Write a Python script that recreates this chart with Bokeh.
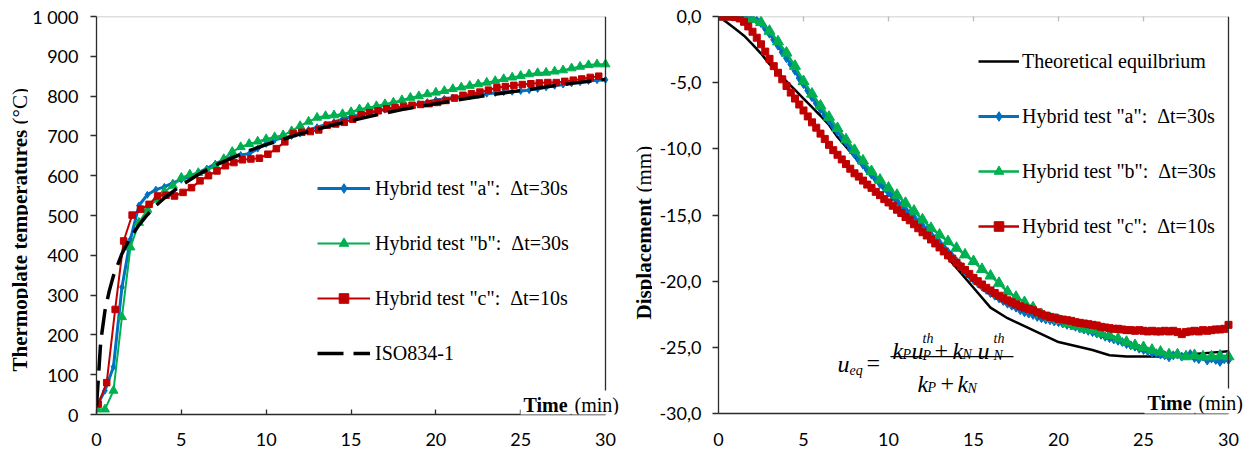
import math
from bokeh.plotting import figure
from bokeh.models import (Legend, LegendItem, Label, LinearAxis, FixedTicker,
                          Range1d, BoxAnnotation, Span)
from bokeh.layouts import row
from bokeh.embed import file_html
from bokeh.resources import INLINE
from bokeh.core.properties import value

# ---------------- data: left panel (thermoplate temperatures) ----------------
x_ticks = [0, 5, 10, 15, 20, 25, 30]
left_y_ticks = [0, 100, 200, 300, 400, 500, 600, 700, 800, 900, 1000]
left_y_labels = {1000: "1 000"}

time_ab_left = [i * 0.5 for i in range(61)]          # sampled every 30 s
temp_a = [20, 60, 120, 320, 440, 525, 552, 565, 572, 582,
          590, 598, 608, 618, 630, 640, 648, 652, 655, 668,
          680, 690, 695, 700, 706, 715, 722, 728, 735, 742,
          748, 753, 758, 762, 766, 769, 772, 776, 780, 785,
          790, 793, 796, 798, 800, 803, 806, 808, 810, 811,
          813, 815, 818, 822, 826, 829, 832, 835, 838, 840,
          841]
temp_b = [13, 13, 60, 245, 420, 482, 515, 540, 560, 575,
          595, 603, 607, 612, 625, 642, 660, 672, 680, 686,
          692, 697, 702, 712, 725, 736, 746, 750, 752, 755,
          760, 767, 771, 775, 780, 784, 790, 796, 800, 805,
          809, 813, 818, 822, 826, 830, 834, 838, 843, 847,
          851, 855, 858, 859, 862, 865, 870, 874, 878, 880,
          880]
time_c_left = [0.1 + i * 0.5 for i in range(60)]
temp_c = [26, 80, 264, 436, 501, 516, 528, 549, 551, 549,
          558, 570, 587, 600, 612, 625, 633, 640, 642, 644,
          654, 668, 685, 706, 709, 711, 715, 727, 730, 734,
          742, 753, 758, 763, 768, 771, 774, 777, 779, 781,
          784, 789, 795, 802, 806, 810, 815, 821, 824, 827,
          829, 831, 833, 834, 834, 837, 840, 843, 847, 850]
time_iso = [0, 0.25, 0.5, 0.75, 1, 1.5, 2, 2.5, 3, 3.5, 4, 5, 6, 7, 8, 9, 10,
            12, 14, 16, 18, 20, 22, 24, 26, 28, 30]
temp_iso = [20, 184, 261, 310, 349, 404, 445, 476, 502, 525, 544, 576, 603,
            626, 645, 663, 678, 705, 728, 748, 766, 781, 795, 808, 820, 832, 842]

# ---------------- data: right panel (displacement) ----------------
right_y_ticks = [0, -5, -10, -15, -20, -25, -30]
right_y_labels = {0: "0,0", -5: "-5,0", -10: "-10,0", -15: "-15,0",
                  -20: "-20,0", -25: "-25,0", -30: "-30,0"}

time_th = [0, 0.5, 1, 1.5, 2, 2.5, 3, 3.5, 4, 4.5, 5, 5.5, 6, 6.5, 7,
           8, 9, 10, 11, 12, 13, 14, 15, 16, 17, 18, 19, 20, 21, 22, 23,
           24, 25, 26, 27, 28, 29, 30]
disp_th = [0, -0.45, -0.95, -1.45, -2.1, -2.8, -3.6, -4.25, -4.9, -5.55,
           -6.2, -6.85, -7.5, -8.2, -9.1,
           -10.6, -12.0, -13.4, -14.7, -16.0, -17.5, -19.0, -20.5, -22.0,
           -22.8, -23.4, -24.0, -24.6, -24.9, -25.2, -25.6, -25.7, -25.7,
           -25.7, -25.6, -25.5, -25.4, -25.3]

time_q = [i * 0.25 for i in range(121)]
disp_a = [0, 0, 0, 0, 0, 0, -0.05, -0.1, -0.15,
          -0.3, -0.5, -0.9, -1.3, -1.75, -2.2, -2.7, -3.15,
          -3.6, -4.1, -4.65, -5.1, -5.6, -6.1, -6.55, -7.0,
          -7.45, -7.85, -8.3, -8.7, -9.1, -9.5, -9.95, -10.4,
          -10.85, -11.2, -11.6, -11.95, -12.3, -12.65, -12.95, -13.3,
          -13.6, -13.95, -14.3, -14.6, -14.9, -15.2, -15.55, -15.85,
          -16.15, -16.5, -16.8, -17.1, -17.45, -17.8, -18.15, -18.5,
          -18.85, -19.2, -19.55, -19.9, -20.15, -20.4, -20.65, -20.9,
          -21.1, -21.3, -21.5, -21.7, -21.85, -22.0, -22.2, -22.35,
          -22.45, -22.55, -22.7, -22.8, -22.9, -22.95, -23.05, -23.1,
          -23.2, -23.3, -23.35, -23.45, -23.55, -23.65, -23.75, -23.85,
          -23.95, -24.05, -24.2, -24.3, -24.4, -24.5, -24.6, -24.75,
          -24.85, -24.95, -25.1, -25.2, -25.3, -25.4, -25.45, -25.55,
          -25.6, -25.75, -25.6, -25.55, -25.7, -25.6, -25.5, -25.8,
          -25.9, -25.7, -26.0, -25.85, -25.95, -26.1, -25.9, -25.95]
time_h = [i * 0.5 for i in range(61)]
disp_b = [0, 0, 0, -0.1, -0.2, -0.45, -1.1, -1.9, -2.75, -3.75,
          -4.9, -5.85, -6.75, -7.6, -8.45, -9.3, -10.1, -10.9, -11.7, -12.35,
          -12.95, -13.5, -14.1, -14.7, -15.35, -16.0, -16.5, -17.0, -17.5, -18.0,
          -18.5, -19.1, -19.6, -20.15, -20.8, -21.2, -21.6, -22.0, -22.5, -22.8,
          -22.95, -23.2, -23.4, -23.6, -23.7, -23.95, -24.1, -24.35, -24.6, -24.85,
          -25.0, -25.2, -25.35, -25.55, -25.55, -25.7, -25.6, -25.7, -25.7, -25.65,
          -25.7]
disp_c = [0, 0, 0, 0, -0.05, -0.15, -0.4, -0.75, -1.15,
          -1.6, -2.1, -2.65, -3.2, -3.75, -4.25, -4.75, -5.25,
          -5.75, -6.2, -6.65, -7.1, -7.55, -8.0, -8.4, -8.85,
          -9.25, -9.7, -10.1, -10.45, -10.8, -11.15, -11.5, -11.85,
          -12.1, -12.4, -12.7, -12.95, -13.25, -13.5, -13.8, -14.05,
          -14.3, -14.6, -14.85, -15.15, -15.4, -15.7, -16.0, -16.3,
          -16.55, -16.85, -17.15, -17.45, -17.75, -18.05, -18.3, -18.6,
          -18.9, -19.15, -19.45, -19.75, -20.0, -20.25, -20.5, -20.7,
          -20.9, -21.1, -21.3, -21.45, -21.6, -21.75, -21.9, -22.0,
          -22.1, -22.2, -22.35, -22.5, -22.6, -22.7, -22.75, -22.85,
          -22.9, -22.95, -23.0, -23.1, -23.15, -23.2, -23.25, -23.3,
          -23.35, -23.45, -23.5, -23.55, -23.6, -23.6, -23.65, -23.7,
          -23.7, -23.75, -23.7, -23.75, -23.8, -23.75, -23.8, -23.8,
          -23.75, -23.8, -23.75, -23.85, -24.0, -23.85, -23.8, -23.75,
          -23.8, -23.7, -23.75, -23.7, -23.65, -23.65, -23.6, -23.3]

label_a = 'Hybrid test "a":\u00a0 \u0394t=30s'
label_b = 'Hybrid test "b":\u00a0 \u0394t=30s'
label_c = 'Hybrid test "c":\u00a0 \u0394t=10s'
label_iso = "ISO834-1"
label_th = "Theoretical equilbrium"

# ---------------- styling ----------------
BLUE = "#0070C0"
GREEN = "#00B050"
RED = "#C00000"
AX = "#2b2b2b"
TICK_FONT = "Lato"
SERIF = "Liberation Serif"
FIG_H = 450


def make_axis(ticks, tick_in=0, tick_out=0, overrides=None, standoff=12, bounds=None):
    ax = LinearAxis(ticker=FixedTicker(ticks=ticks))
    ax.axis_line_color = AX
    ax.axis_line_width = 1.3
    ax.major_tick_line_color = AX
    ax.major_tick_line_width = 1.3
    ax.major_tick_in = tick_in
    ax.major_tick_out = tick_out
    ax.minor_tick_line_color = None
    ax.major_label_text_font = TICK_FONT
    ax.major_label_text_color = "black"
    ax.major_label_text_font_size = "18px"
    ax.major_label_standoff = standoff
    if overrides:
        ax.major_label_overrides = overrides
    if bounds is not None:
        ax.bounds = bounds
    return ax


def edge(p, left, right, top, bottom):
    """frame border line segment / inner tick drawn as a zero-thickness box"""
    p.add_layout(BoxAnnotation(left=left, right=right, top=top, bottom=bottom,
                               fill_alpha=0, line_color=AX, line_width=1.3))


def add_text(p, txt, x, y, size="20px", style="normal", bg=None):
    lab = Label(x=x, y=y, text=txt, text_font=SERIF, text_font_style=style,
                text_font_size=size, text_align="left", text_baseline="alphabetic",
                text_color="black")
    if bg:
        lab.background_fill_color = bg
        lab.padding = 3
    p.add_layout(lab)


def base_fig(frame_w, frame_h, xr, yr, left, right, top, bottom):
    p = figure(frame_width=frame_w, frame_height=frame_h, x_range=xr, y_range=yr,
               output_backend="svg", toolbar_location=None, title=None,
               x_axis_location=None, y_axis_location=None,
               min_border_left=left, min_border_right=right,
               min_border_top=top, min_border_bottom=bottom)
    p.grid.visible = False
    p.outline_line_color = None
    p.background_fill_color = "white"
    p.border_fill_color = "white"
    return p


def title_fig(w, parts):
    """narrow strip holding a rotated, mixed-style axis title (y measured from top)"""
    f = figure(frame_width=w, frame_height=FIG_H, x_range=Range1d(0, w),
               y_range=Range1d(0, FIG_H), output_backend="svg", toolbar_location=None,
               title=None, x_axis_location=None, y_axis_location=None,
               min_border_left=0, min_border_right=0, min_border_top=0, min_border_bottom=0)
    f.grid.visible = False
    f.outline_line_color = None
    f.border_fill_color = "white"
    for txt, bx, top_y, style in parts:
        f.text(x=[bx], y=[FIG_H - top_y], text=[txt], angle=math.pi / 2,
               text_font=value(SERIF), text_font_style=style, text_font_size="21px",
               text_align="left", text_baseline="alphabetic", text_color="black")
    return f


# ================= LEFT PANEL =================
# frame spans x 96..620 px of the page; data 0..30 min covers 96..605
L_FW = 524
p1 = base_fig(L_FW, 398, Range1d(0, 30.0 * L_FW / 509.0), Range1d(0, 1000), 68, 6, 14, 38)
p1.add_layout(make_axis(x_ticks, tick_in=5, standoff=18, bounds=(0, 30)), "below")
p1.add_layout(make_axis(left_y_ticks, tick_out=6, overrides=left_y_labels, standoff=12), "left")
edge(p1, x_ticks[0], x_ticks[-1], left_y_ticks[-1], left_y_ticks[-1])      # top border
p1.add_layout(Span(location=x_ticks[-1], dimension="height", line_color=AX, line_width=1.3))

la_l = p1.line(time_ab_left, temp_a, line_color=BLUE, line_width=3)
la_s = p1.scatter(time_ab_left, temp_a, marker="diamond", size=7, color=BLUE)
lb_l = p1.line(time_ab_left, temp_b, line_color=GREEN, line_width=2)
lb_s = p1.scatter(time_ab_left, temp_b, marker="triangle", size=9, color=GREEN)
lc_l = p1.line(time_c_left, temp_c, line_color=RED, line_width=2)
lc_s = p1.scatter(time_c_left, temp_c, marker="square", size=6.5, color=RED)
liso = p1.line(time_iso, temp_iso, line_color="black", line_width=3.5, line_dash="26 10")

leg1 = Legend(items=[LegendItem(label=label_a, renderers=[la_l, la_s]),
                     LegendItem(label=label_b, renderers=[lb_l, lb_s]),
                     LegendItem(label=label_c, renderers=[lc_l, lc_s]),
                     LegendItem(label=label_iso, renderers=[liso])],
              location=(221, 49), glyph_width=53, glyph_height=24,
              label_height=24, label_standoff=5, spacing=31, padding=0, margin=0,
              border_line_color=None, background_fill_alpha=0,
              label_text_font=SERIF, label_text_font_size="20px",
              label_text_color="black")
p1.add_layout(leg1)


def lx(px):
    return (px - 96.0) * 30.0 / 509.0


def ly(py):
    return (412.0 - py) * 1000.0 / 398.0


add_text(p1, "Time", lx(520), ly(402), style="bold", bg="white")
add_text(p1, "(min)", lx(571), ly(402), bg="white")

t1 = title_fig(28, [("Thermoplate temperatures", 19, 355, "bold"),
                    ("(\u00b0C)", 19, 108, "normal")])

# ================= RIGHT PANEL =================
R_FW = 526
p2 = base_fig(R_FW, 397, Range1d(0, 30.0 * R_FW / 510.0), Range1d(-30, 0), 66, 5, 16, 37)
p2.add_layout(make_axis(x_ticks, standoff=19, bounds=(0, 30)), "below")
p2.add_layout(make_axis(right_y_ticks, tick_out=6, overrides=right_y_labels, standoff=11), "left")
edge(p2, x_ticks[0], x_ticks[-1], right_y_ticks[0], right_y_ticks[0])      # top axis line
TICK_LEN = 5 * 30.0 / 397.0                                                # 5 px in data units
for t in x_ticks[1:-1]:                                                    # inward ticks on top axis
    edge(p2, t, t, right_y_ticks[0], right_y_ticks[0] - TICK_LEN)
p2.add_layout(Span(location=x_ticks[-1], dimension="height", line_color=AX, line_width=1.3))

rt = p2.line(time_th, disp_th, line_color="black", line_width=2.5)
ra_l = p2.line(time_q, disp_a, line_color=BLUE, line_width=3)
ra_s = p2.scatter(time_q, disp_a, marker="diamond", size=9, color=BLUE)
rb_l = p2.line(time_h, disp_b, line_color=GREEN, line_width=2.5)
rb_s = p2.scatter(time_h, disp_b, marker="triangle", size=11, color=GREEN)
rc_l = p2.line(time_q, disp_c, line_color=RED, line_width=2.5)
rc_s = p2.scatter(time_q, disp_c, marker="square", size=7, color=RED)

leg2 = Legend(items=[LegendItem(label=label_th, renderers=[rt]),
                     LegendItem(label=label_a, renderers=[ra_l, ra_s]),
                     LegendItem(label=label_b, renderers=[rb_l, rb_s]),
                     LegendItem(label=label_c, renderers=[rc_l, rc_s])],
              location=(260, 175), glyph_width=41, glyph_height=24,
              label_height=24, label_standoff=3, spacing=31, padding=0, margin=0,
              border_line_color=None, background_fill_alpha=0,
              label_text_font=SERIF, label_text_font_size="20px",
              label_text_color="black")
p2.add_layout(leg2)


def rx(px):
    return (px - 718.0) * 30.0 / 510.0


def ry(py):
    return -(py - 16.0) * 30.0 / 397.0


add_text(p2, "Time", rx(1144), ry(402), style="bold", bg="white")
add_text(p2, "(min)", rx(1195), ry(402), bg="white")

# equation u_eq = (k_P u_P^th + k_N u_N^th) / (k_P + k_N)
BIG = "24px"
SMALL = "14px"
eq_parts = [
    ("u", 837, 363, BIG, "italic"), ("eq", 849, 370, SMALL, "italic"),
    ("=", 866, 362, BIG, "normal"),
    ("k", 892, 350, BIG, "italic"), ("P", 902, 354, SMALL, "italic"),
    ("u", 911, 350, BIG, "italic"), ("th", 922, 338, SMALL, "italic"),
    ("P", 922, 355, SMALL, "italic"),
    ("+", 934, 350, BIG, "normal"),
    ("k", 952, 350, BIG, "italic"), ("N", 962, 354, SMALL, "italic"),
    ("u", 977, 350, BIG, "italic"), ("th", 993, 338, SMALL, "italic"),
    ("N", 993, 355, SMALL, "italic"),
    ("k", 917, 383, BIG, "italic"), ("P", 927, 387, SMALL, "italic"),
    ("+", 940, 383, BIG, "normal"),
    ("k", 957, 383, BIG, "italic"), ("N", 967, 388, SMALL, "italic"),
]
for txt, px, py, sz, st in eq_parts:
    add_text(p2, txt, rx(px), ry(py), size=sz, style=st)
p2.add_layout(BoxAnnotation(left=rx(890), right=rx(1013), top=ry(355.4), bottom=ry(356.7),
                            fill_color="black", fill_alpha=1.0, line_color=None))

t2 = title_fig(26, [("Displacement", 17, 303, "bold"),
                    ("(mm)", 17, 176, "normal")])

layout = row(t1, p1, t2, p2)
html = file_html(layout, INLINE, title="Hybrid fire tests")
html = html.replace("<head>", "<head><style>html,body{overflow:hidden;}</style>", 1)
open("out.html", "w").write(html)
